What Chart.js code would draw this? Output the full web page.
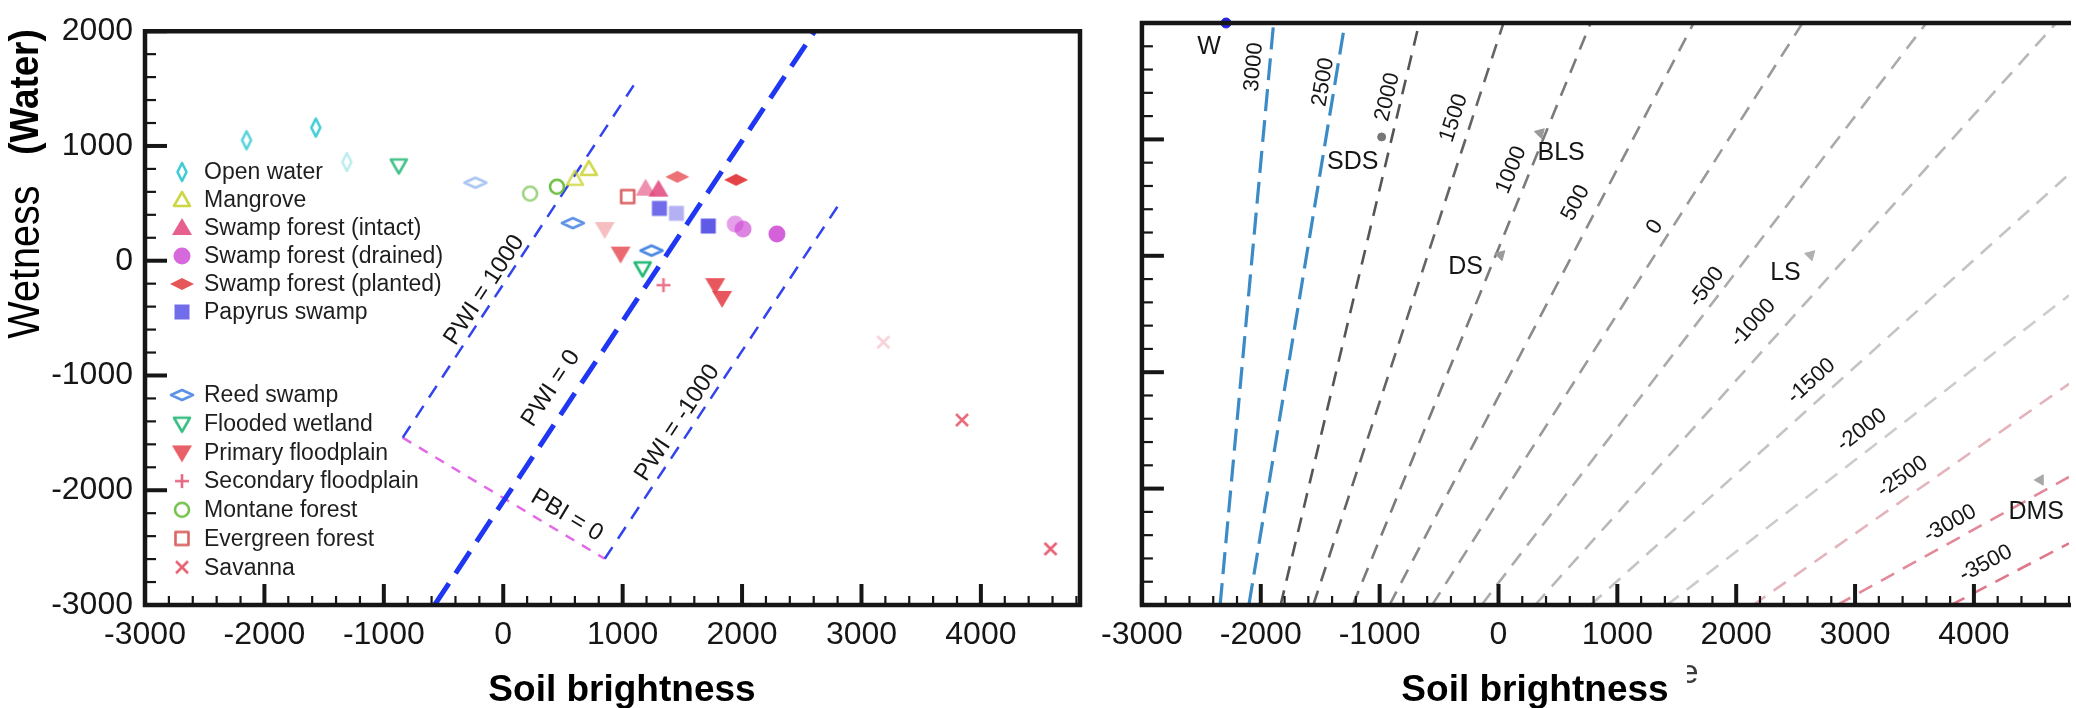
<!DOCTYPE html>
<html>
<head>
<meta charset="utf-8">
<title>Wetness vs soil brightness</title>
<script src="https://cdn.jsdelivr.net/npm/chart.js@4.4.1/dist/chart.umd.min.js"></script>
<style>
  html, body { margin: 0; padding: 0; background: #fff; }
  body { position: relative; width: 2076px; height: 708px; overflow: hidden; }
  canvas { position: absolute; top: 0; }
  #chartClasses { left: 0; }
  #chartContours { left: 1090px; }
</style>
</head>
<body>
<canvas id="chartClasses" width="1090" height="708"></canvas>
<canvas id="chartContours" width="986" height="708"></canvas>
<script>
const font = '"Liberation Sans", Arial, Helvetica, sans-serif';
const ink = '#161616';

const xTicks = [-3000, -2000, -1000, 0, 1000, 2000, 3000, 4000];
const yTicks = [-3000, -2000, -1000, 0, 1000, 2000];

// land cover classes, left panel
const classNames = ['Open water', 'Mangrove', 'Swamp forest (intact)', 'Swamp forest (drained)',
    'Swamp forest (planted)', 'Papyrus swamp', 'Reed swamp', 'Flooded wetland', 'Primary floodplain',
    'Secondary floodplain', 'Montane forest', 'Evergreen forest', 'Savanna'];
const openWater = [{x: -2150, y: 1050}, {x: -1570, y: 1160}, {x: -1310, y: 860}];
const mangrove = [{x: 600, y: 714}, {x: 717, y: 800}];
const swampIntact = [{x: 1192, y: 628}, {x: 1300, y: 619}];
const swampDrained = [{x: 1942, y: 319}, {x: 2008, y: 276}, {x: 2292, y: 233}];
const swampPlanted = [{x: 1458, y: 731}, {x: 1950, y: 705}];
const papyrus = [{x: 1308, y: 456}, {x: 1450, y: 413}, {x: 1717, y: 302}];
const reedSwamp = [{x: -233, y: 680}, {x: 583, y: 328}, {x: 1242, y: 88}];
const floodedWetland = [{x: -875, y: 830}, {x: 1167, y: -67}];
const primaryFloodplain = [{x: 850, y: 276}, {x: 983, y: 62}, {x: 1775, y: -213}, {x: 1833, y: -324}];
const secondaryFloodplain = [{x: 1342, y: -213}];
const montaneForest = [{x: 225, y: 585}, {x: 450, y: 645}];
const evergreenForest = [{x: 1042, y: 559}];
const savanna = [{x: 3183, y: -710}, {x: 3842, y: -1388}, {x: 4583, y: -2511}];

// PWI / PBI guide lines
const pwiPlus1000 = [{x: -842, y: -1542}, {x: 1092, y: 1528}];
const pwiZero = [{x: -575, y: -3000}, {x: 2608, y: 2000}];
const pwiMinus1000 = [{x: 850, y: -2597}, {x: 2800, y: 473}];
const pbiZero = [{x: -842, y: -1542}, {x: 850, y: -2597}];

// index contours, right panel
const contourLevels = [3000, 2500, 2000, 1500, 1000, 500, 0, -500, -1000, -1500, -2000, -2500, -3000, -3500];
const contourLines = [
    [{x: -2342, y: -3000}, {x: -1892, y: 2000}],
    [{x: -2100, y: -3000}, {x: -1292, y: 2000}],
    [{x: -1833, y: -3000}, {x: -667, y: 2000}],
    [{x: -1558, y: -3000}, {x: 42, y: 2000}],
    [{x: -1225, y: -3000}, {x: 775, y: 2000}],
    [{x: -917, y: -3000}, {x: 1642, y: 2000}],
    [{x: -558, y: -3000}, {x: 2558, y: 2000}],
    [{x: -142, y: -3000}, {x: 3600, y: 2000}],
    [{x: 308, y: -3000}, {x: 4692, y: 2000}],
    [{x: 775, y: -3000}, {x: 4800, y: 700}],
    [{x: 1417, y: -3000}, {x: 4800, y: -340}],
    [{x: 2142, y: -3000}, {x: 4800, y: -1100}],
    [{x: 2850, y: -3000}, {x: 4800, y: -1900}],
    [{x: 3808, y: -3000}, {x: 4800, y: -2470}]
];
const contourLabelAt = [
    {x: -2058, y: 1622}, {x: -1475, y: 1493}, {x: -933, y: 1364}, {x: -375, y: 1184},
    {x: 108, y: 737}, {x: 650, y: 454}, {x: 1317, y: 247}, {x: 1750, y: -268},
    {x: 2142, y: -577}, {x: 2633, y: -1076}, {x: 3058, y: -1497}, {x: 3400, y: -1900},
    {x: 3800, y: -2300}, {x: 4100, y: -2644}
];
const featureNames = ['W', 'SDS', 'DS', 'BLS', 'LS', 'DMS'];
const featurePoints = [{x: -2292, y: 2000}, {x: -983, y: 1021}, {x: 17, y: 7},
    {x: 350, y: 1055}, {x: 2625, y: 7}, {x: 4558, y: -1926}];

// marker look per class
const classStyle = [
    {kind: 'vdiamond', color: '#1fc3cf', alpha: [0.75, 0.85, 0.3]},
    {kind: 'tri', color: '#c6cf22', alpha: [0.7, 0.8]},
    {kind: 'triFill', color: '#e2447c', alpha: [0.6, 0.85]},
    {kind: 'circleFill', color: '#cf4fd6', alpha: [0.55, 0.7, 0.9]},
    {kind: 'hdiamondFill', color: '#e2383c', alpha: [0.7, 0.95]},
    {kind: 'squareFill', color: '#5752e6', alpha: [0.85, 0.45, 0.95]},
    {kind: 'hdiamond', color: '#3f7ee0', alpha: [0.45, 0.85, 0.95]},
    {kind: 'triDown', color: '#16b46e', alpha: [0.8, 0.95]},
    {kind: 'triDownFill', color: '#e5454d', alpha: [0.35, 0.8, 0.9, 0.9]},
    {kind: 'plus', color: '#e2506e', alpha: [0.8]},
    {kind: 'circle', color: '#5cb82e', alpha: [0.6, 0.9]},
    {kind: 'square', color: '#d44848', alpha: [0.85]},
    {kind: 'cross', color: '#e2455a', alpha: [0.25, 0.8, 0.85]}
];
const classPoints = [openWater, mangrove, swampIntact, swampDrained, swampPlanted, papyrus, reedSwamp,
    floodedWetland, primaryFloodplain, secondaryFloodplain, montaneForest, evergreenForest, savanna];

const contourColors = ['#3b8bc6', '#3b8bc6', '#555', '#646464', '#7a7a7a', '#8a8a8a', '#9a9a9a',
    '#ababab', '#b8b8b8', '#c4c4c4', '#cccccc', '#e4b4bc', '#e2899a', '#e07789'];

function sprite(kind, color, alpha) {
    const c = document.createElement('canvas');
    c.width = 28; c.height = 28;
    const g = c.getContext('2d');
    g.globalAlpha = alpha;
    g.strokeStyle = color;
    g.fillStyle = color;
    g.lineWidth = 2.6;
    g.lineJoin = 'round';
    g.translate(14, 14);
    g.beginPath();
    switch (kind) {
        case 'vdiamond': g.moveTo(0, -9); g.lineTo(4.5, 0); g.lineTo(0, 9); g.lineTo(-4.5, 0); g.closePath(); g.stroke(); break;
        case 'hdiamond': g.moveTo(-11, 0); g.lineTo(0, -5); g.lineTo(11, 0); g.lineTo(0, 5); g.closePath(); g.stroke(); break;
        case 'hdiamondFill': g.moveTo(-12, 0); g.lineTo(0, -6); g.lineTo(12, 0); g.lineTo(0, 6); g.closePath(); g.fill(); break;
        case 'tri': g.moveTo(0, -8); g.lineTo(8, 6); g.lineTo(-8, 6); g.closePath(); g.stroke(); break;
        case 'triFill': g.moveTo(0, -10); g.lineTo(10, 7); g.lineTo(-10, 7); g.closePath(); g.fill(); break;
        case 'triDown': g.moveTo(0, 8); g.lineTo(8, -6); g.lineTo(-8, -6); g.closePath(); g.stroke(); break;
        case 'triDownFill': g.moveTo(0, 10); g.lineTo(10, -7); g.lineTo(-10, -7); g.closePath(); g.fill(); break;
        case 'circle': g.arc(0, 0, 7, 0, Math.PI * 2); g.stroke(); break;
        case 'circleFill': g.arc(0, 0, 8.5, 0, Math.PI * 2); g.fill(); break;
        case 'square': g.strokeRect(-6.5, -6.5, 13, 13); break;
        case 'squareFill': g.fillRect(-7.5, -7.5, 15, 15); break;
        case 'plus': g.moveTo(-7, 0); g.lineTo(7, 0); g.moveTo(0, -7); g.lineTo(0, 7); g.stroke(); break;
        case 'cross': g.moveTo(-6, -6); g.lineTo(6, 6); g.moveTo(6, -6); g.lineTo(-6, 6); g.stroke(); break;
    }
    return c;
}

const pointSprites = classStyle.map(s => s.alpha.map(a => sprite(s.kind, s.color, a)));
const legendSprites = classStyle.map(s => sprite(s.kind, s.color, 0.85));

function pxAngle(chart, seg) {
    const {x, y} = chart.scales;
    return Math.atan2(y.getPixelForValue(seg[1].y) - y.getPixelForValue(seg[0].y),
        x.getPixelForValue(seg[1].x) - x.getPixelForValue(seg[0].x));
}

// inward ticks and the heavy frame
function frame(closeRight) {
    return {
        id: 'frame',
        afterDatasetsDraw(chart) {
            const {ctx, chartArea: a, scales: {x, y}} = chart;
            ctx.save();
            ctx.strokeStyle = ink;
            for (let v = -3000; v <= x.max; v += 200) {
                const p = x.getPixelForValue(v);
                const major = v % 1000 === 0;
                ctx.lineWidth = major ? 4 : 2.2;
                ctx.beginPath();
                ctx.moveTo(p, a.bottom);
                ctx.lineTo(p, a.bottom - (major ? 21 : 9));
                ctx.stroke();
            }
            for (let v = -3000; v <= 2000; v += 200) {
                const p = y.getPixelForValue(v);
                const major = v % 1000 === 0;
                ctx.lineWidth = major ? 4 : 2.2;
                ctx.beginPath();
                ctx.moveTo(a.left, p);
                ctx.lineTo(a.left + (major ? 22 : 11), p);
                ctx.stroke();
            }
            ctx.lineWidth = 4.5;
            ctx.beginPath();
            if (closeRight) {
                ctx.rect(a.left, a.top, a.right - a.left, a.bottom - a.top);
            } else {
                ctx.moveTo(a.right + 2, a.top);
                ctx.lineTo(a.left, a.top);
                ctx.lineTo(a.left, a.bottom);
                ctx.lineTo(a.right + 2, a.bottom);
            }
            ctx.stroke();
            ctx.restore();
        }
    };
}

// rotated text that sits along a line
function drawAlong(chart, items) {
    const {ctx, scales: {x, y}} = chart;
    ctx.save();
    ctx.fillStyle = ink;
    ctx.textAlign = 'center';
    ctx.textBaseline = 'middle';
    items.forEach(t => {
        ctx.save();
        ctx.translate(x.getPixelForValue(t.at.x), y.getPixelForValue(t.at.y));
        ctx.rotate(pxAngle(chart, t.along));
        ctx.font = t.font;
        ctx.fillText(t.text, 0, 0);
        ctx.restore();
    });
    ctx.restore();
}

// vertical title text, squeezed a little along its length
function sideText(ctx, text, cx, cy, fontSpec, squeeze) {
    ctx.save();
    ctx.fillStyle = '#000';
    ctx.textAlign = 'center';
    ctx.textBaseline = 'middle';
    ctx.translate(cx, cy);
    ctx.rotate(-Math.PI / 2);
    ctx.scale(squeeze, 1);
    ctx.font = fontSpec;
    ctx.fillText(text, 0, 0);
    ctx.restore();
}

// x title laid over the older "Brightness" caption
function xTitle(ctx, cx, oldX, oldClip) {
    ctx.save();
    ctx.beginPath();
    ctx.rect(0, 0, oldClip, 708);
    ctx.clip();
    ctx.fillStyle = '#3a3a3a';
    ctx.font = '34px ' + font;
    ctx.textAlign = 'left';
    ctx.textBaseline = 'alphabetic';
    ctx.fillText('Brightness', oldX, 683);
    ctx.restore();
    ctx.save();
    ctx.fillStyle = '#fff';
    ctx.fillRect(cx - 152, 657, 304, 51);
    ctx.fillStyle = '#000';
    ctx.font = 'bold 37px ' + font;
    ctx.textAlign = 'center';
    ctx.textBaseline = 'alphabetic';
    ctx.fillText('Soil brightness', cx, 701);
    ctx.restore();
}

const classLegend = {
    id: 'classLegend',
    afterDatasetsDraw(chart) {
        const {ctx} = chart;
        ctx.save();
        ctx.font = '23px ' + font;
        ctx.fillStyle = '#1e1e1e';
        ctx.textBaseline = 'middle';
        classNames.forEach((name, i) => {
            const rowY = i < 6 ? 172 + i * 28 : 395 + (i - 6) * 28.7;
            const s = legendSprites[i];
            ctx.drawImage(s, 182 - s.width / 2, rowY - s.height / 2);
            ctx.fillText(name, 204, rowY + 1);
        });
        ctx.restore();
    }
};

const classLabels = {
    id: 'classLabels',
    afterDatasetsDraw(chart) {
        drawAlong(chart, [
            {text: 'PWI = 1000', at: {x: -158, y: -256}, along: pwiPlus1000, font: '24px ' + font},
            {text: 'PWI = 0', at: {x: 400, y: -1113}, along: pwiZero, font: '24px ' + font},
            {text: 'PWI = -1000', at: {x: 1458, y: -1413}, along: pwiMinus1000, font: '24px ' + font},
            {text: 'PBI = 0', at: {x: 533, y: -2220}, along: pbiZero, font: '24px ' + font}
        ]);
        const {ctx} = chart;
        sideText(ctx, 'Wetness', 27, 262, '45px ' + font, 0.88);
        sideText(ctx, '(Water)', 27, 92, 'bold 40px ' + font, 0.92);
        xTitle(ctx, 622, 562, 1090);
    }
};

const contourLabels = {
    id: 'contourLabels',
    afterDatasetsDraw(chart) {
        drawAlong(chart, contourLevels.map((lv, i) => ({
            text: String(lv), at: contourLabelAt[i], along: contourLines[i], font: '22px ' + font
        })));
        const {ctx, scales: {x, y}} = chart;
        const offsets = [[-17, 24], [-29, 25], [-35, 12], [21, 20], [-25, 18], [-4, 32]];
        ctx.save();
        ctx.fillStyle = ink;
        ctx.font = '25px ' + font;
        ctx.textAlign = 'center';
        ctx.textBaseline = 'middle';
        featureNames.forEach((n, i) => {
            ctx.fillText(n, x.getPixelForValue(featurePoints[i].x) + offsets[i][0],
                y.getPixelForValue(featurePoints[i].y) + offsets[i][1]);
        });
        ctx.restore();
        xTitle(ctx, 445, 482, 607);
    }
};

function axes(xMax, yWidth, showY) {
    const tickFont = {family: font, size: 32};
    return {
        x: {
            type: 'linear', min: -3000, max: xMax,
            afterBuildTicks: s => { s.ticks = xTicks.map(v => ({value: v})); },
            afterFit: s => { s.height = 103; },
            grid: {display: false, drawTicks: false},
            border: {display: false},
            ticks: {font: tickFont, color: ink, padding: 11, maxRotation: 0, autoSkip: false,
                callback: v => String(v)}
        },
        y: {
            type: 'linear', min: -3000, max: 2000,
            afterBuildTicks: s => { s.ticks = yTicks.map(v => ({value: v})); },
            afterFit: s => { s.width = yWidth; },
            grid: {display: false, drawTicks: false},
            border: {display: false},
            ticks: {display: showY, font: tickFont, color: ink, padding: 12, autoSkip: false,
                callback: v => String(v)}
        }
    };
}

const guideDatasets = [
    {data: pwiPlus1000, borderColor: '#3344ee', borderWidth: 2.5, borderDash: [14, 10]},
    {data: pwiZero, borderColor: '#1f37f2', borderWidth: 5, borderDash: [26, 12]},
    {data: pwiMinus1000, borderColor: '#3344ee', borderWidth: 2.5, borderDash: [14, 10]},
    {data: pbiZero, borderColor: '#e36ae6', borderWidth: 2.5, borderDash: [10, 9]}
].map(d => Object.assign(d, {showLine: true, pointRadius: 0, fill: false}));

new Chart(document.getElementById('chartClasses'), {
    type: 'scatter',
    data: {
        datasets: classNames.map((name, i) => ({
            label: name,
            data: classPoints[i],
            pointStyle: ctx => pointSprites[i][ctx.dataIndex],
            pointRadius: 9
        })).concat(guideDatasets)
    },
    options: {
        responsive: false,
        animation: false,
        events: [],
        layout: {padding: {top: 22, right: 5, left: 0, bottom: 0}},
        plugins: {legend: {display: false}, tooltip: {enabled: false}},
        scales: axes(4830, 145, true)
    },
    plugins: [frame(true), classLegend, classLabels]
});

new Chart(document.getElementById('chartContours'), {
    type: 'scatter',
    data: {
        datasets: [{
            label: 'Features',
            data: featurePoints,
            pointStyle: ['circle', 'circle', 'triangle', 'triangle', 'triangle', 'triangle'],
            rotation: [0, 0, 45, 45, 45, 270],
            pointRadius: [5, 4, 6, 6, 6, 6],
            backgroundColor: ['#2323e0', '#777', '#9a9a9a', '#9a9a9a', '#b0b0b0', '#a8a8a8'],
            borderColor: ['#2323e0', '#777', '#9a9a9a', '#9a9a9a', '#b0b0b0', '#a8a8a8'],
            borderWidth: 1,
            clip: false
        }].concat(contourLevels.map((lv, i) => ({
            label: String(lv),
            data: contourLines[i],
            showLine: true,
            pointRadius: 0,
            borderColor: contourColors[i],
            borderWidth: i < 2 ? 3.2 : 2.6,
            borderDash: i < 2 ? [22, 9] : [15, 10]
        })))
    },
    options: {
        responsive: false,
        animation: false,
        events: [],
        layout: {padding: {top: 23, right: 0, left: 0, bottom: 0}},
        plugins: {legend: {display: false}, tooltip: {enabled: false}},
        scales: axes(4800, 50, false)
    },
    plugins: [frame(false), contourLabels]
});
</script>
</body>
</html>
